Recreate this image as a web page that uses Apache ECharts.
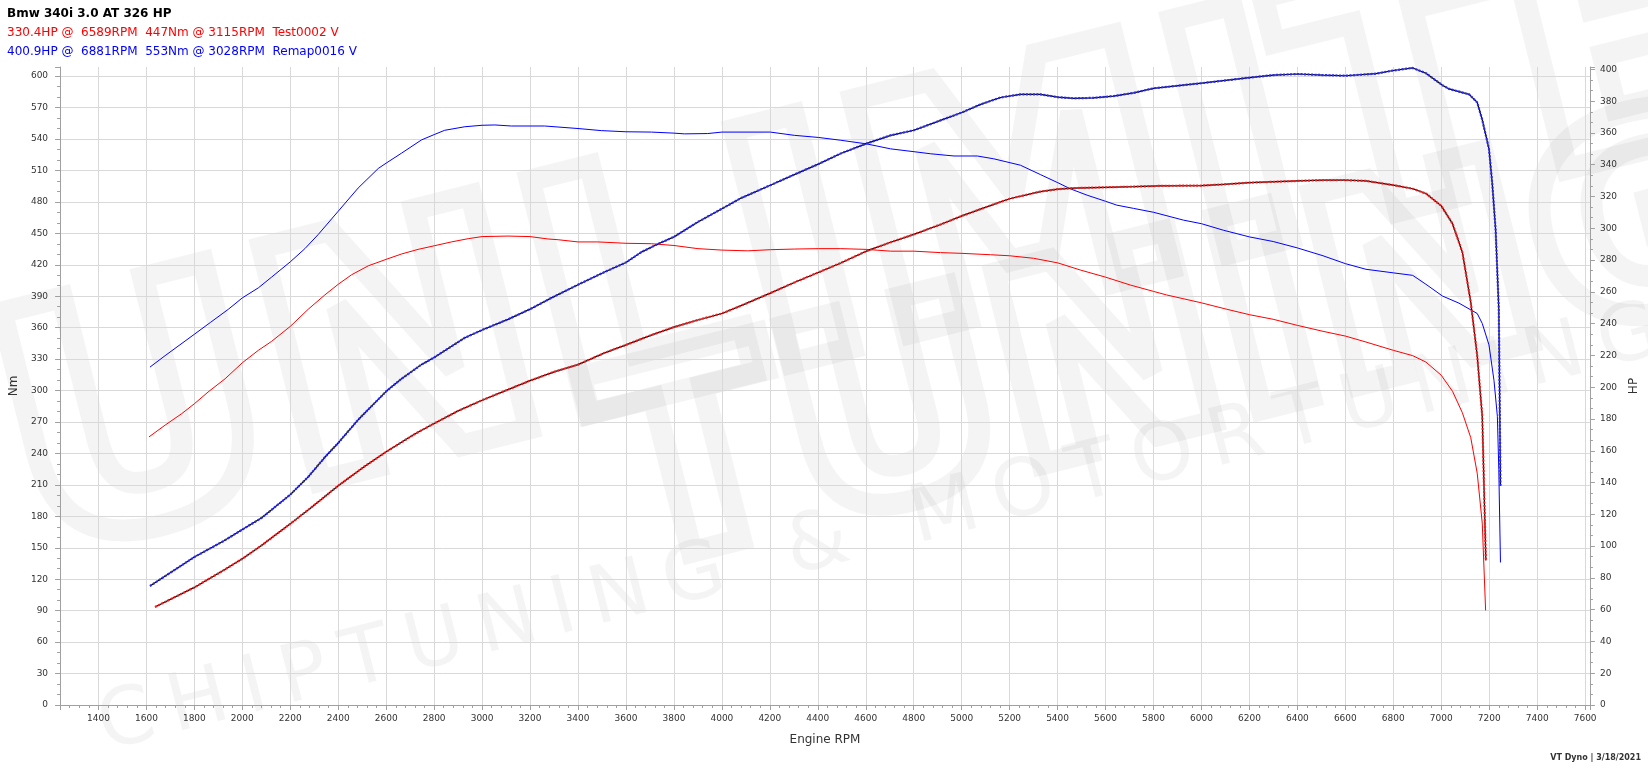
<!DOCTYPE html>
<html><head><meta charset="utf-8">
<script src="https://cdn.jsdelivr.net/npm/echarts@6/dist/echarts.min.js"></script>
<style>html,body{margin:0;padding:0;background:#fff}#c{width:1648px;height:769px}</style>
</head><body><div id="c"></div>
<script>
// ---- text ----
const chartTitle = 'Bmw 340i 3.0 AT 326 HP';
const stockLabel = '330.4HP @  6589RPM  447Nm @ 3115RPM  Test0002 V';
const remapLabel = '400.9HP @  6881RPM  553Nm @ 3028RPM  Remap0016 V';
const footerText = 'VT Dyno | 3/18/2021';
const xName = 'Engine RPM', leftName = 'Nm', rightName = 'HP';
const watermarkBig = 'UNLIMITED', watermarkMid = 'TUNING';
const watermarkSmall = 'C\u2009H\u2009I\u2009P\u2009T\u2009U\u2009N\u2009I\u2009N\u2009G\u2002 &\u2002 M\u2009O\u2009T\u2009O\u2009R\u2009T\u2009U\u2009N\u2009I\u2009N\u2009G';

// ---- Stock torque (Nm) ----
const stockNmRpm = [1611,1678,1747,1800,1861,1928,2000,2067,2122,2200,2275,2344,2400,2456,2525,2600,2664,2733,2800,2872,2942,3000,3108,3200,3275,3317,3400,3483,3600,3706,3800,3900,4000,4108,4202,4302,4402,4496,4602,4704,4801,4912,5001,5120,5200,5300,5401,5495,5600,5703,5800,5855,6000,6105,6200,6299,6400,6507,6600,6686,6800,6881,6936,7000,7047,7088,7123,7150,7171,7185];
const stockNm = [255.8,267,277.9,287.4,299.3,311.2,326.5,338.4,346.9,361.2,377.6,391.2,401.4,410.5,419,425.2,430.3,434.7,438.1,441.8,444.9,446.9,447.4,446.9,444.6,443.9,441.8,441.8,440.5,440.1,438.4,435.4,434,433.3,434.4,435,435.4,435.4,434.7,433,433,431.6,430.9,429.6,428.6,426.2,421.8,415,408.2,400.7,394.6,391.2,383.7,377.6,372.4,368,362.2,356.5,352,346.3,338.4,333.3,327.2,314.6,299.3,278.9,255.1,221.1,173.5,90.2];

// ---- Remap torque (Nm) ----
const remapNmRpm = [1615,1678,1800,1867,1942,2000,2067,2122,2200,2261,2317,2400,2483,2567,2600,2664,2747,2800,2844,2928,3000,3053,3122,3200,3261,3400,3497,3600,3706,3800,3844,3941,4000,4202,4302,4402,4496,4602,4704,4801,4871,4968,5065,5134,5245,5328,5401,5453,5523,5600,5647,5717,5800,5925,6000,6091,6200,6299,6400,6507,6600,6686,6800,6881,6936,7005,7074,7150,7171,7199,7220,7234,7240,7247];
const remapNm = [322.4,333.3,353.7,365,377.6,388.4,398,408.2,422.8,435.4,449,471.1,493.2,511.9,517,526.5,539.1,544.2,548.3,551.7,553.1,553.4,552.4,552.4,552.4,550,548,546.9,546.6,545.6,544.9,545.2,546.6,546.6,543.5,541.5,538.8,535.4,530.6,527.9,525.9,523.8,523.8,521.1,515,506.1,498.3,492.5,486.4,480.6,476.9,473.8,470.1,462.6,459.2,453,446.6,442.2,436.1,428.6,421.1,415.7,412.3,409.9,401.4,390.2,383.4,373.5,364,343.6,309.5,275.5,224.5,136];

// ---- Stock power (HP) ----
const stockHpRpm = [1636,1800,1922,2000,2081,2200,2289,2400,2511,2600,2719,2800,2900,3000,3108,3200,3303,3400,3511,3600,3706,3800,3900,4000,4080,4202,4302,4402,4496,4602,4704,4801,4912,5001,5107,5200,5328,5401,5467,5600,5717,5828,6000,6091,6200,6400,6507,6589,6686,6800,6881,6936,7000,7047,7088,7123,7150,7171,7186];
const stockHp = [61.7,74,84.8,92,100.5,114,124.5,138,150.3,159.3,170.5,177.2,185.1,191.8,198.5,204.1,209.8,214.2,221.6,226.6,232.8,237.8,242.3,246.4,251.3,259.2,265.9,272.2,278.2,285.6,291.2,296.2,302.4,307.8,313.6,318.6,323.1,324.6,325.3,325.8,326.2,326.7,326.9,327.6,328.7,329.8,330.3,330.4,329.8,327.2,324.9,321.9,314.1,302.9,285,253.5,219.8,181.7,90.9];

// ---- Remap power (HP) ----
const remapHpRpm = [1615,1800,1922,2000,2081,2200,2275,2344,2400,2483,2600,2664,2747,2800,2928,3000,3108,3200,3289,3400,3511,3600,3664,3733,3800,3900,4000,4080,4202,4302,4402,4496,4602,4704,4801,4912,5001,5079,5162,5245,5328,5401,5467,5550,5634,5717,5800,6000,6200,6299,6400,6507,6600,6728,6800,6881,6936,7005,7033,7116,7150,7171,7199,7213,7227,7240,7247];
const remapHp = [74.9,93.1,103.2,110.4,117.8,132.4,143.6,155.9,164.9,179.5,197.4,205.3,214.2,218.7,231.1,236,242.7,249.1,256.2,264.5,272.5,278.5,285,290.1,294.6,304,312.3,319,327.1,333.8,340.4,347.1,353.3,358.5,361.7,367.9,372.9,378,382.3,384.3,384.3,382.5,381.8,382.1,383.2,385.2,388.1,391.3,394.8,396.4,397.1,396.4,396,397.3,399.3,400.9,397.6,390,387.7,384.3,379.2,368.2,350,327.6,298.4,249.1,138];

// ---- axis ticks ----
const rpmMin = 1240, rpmMax = 7620, rpmStep = 200;
const nmMax = 608.7, nmStep = 30;
const hpMax = 401.5, hpStep = 20;

const zip = (a, b) => a.map((x, i) => [x, b[i]]);
const FONT = 'DejaVu Sans';
const axisGray = '#a0a0a0';
const gridGray = '#d9d9d9';

const chart = echarts.init(document.getElementById('c'), null, {renderer: 'canvas'});

const wm = 'rgba(0,0,0,0.045)';
const option = {
  animation: false,
  backgroundColor: '#ffffff',
  grid: {left: 57, right: 56.5, top: 67, bottom: 64, containLabel: false},
  graphic: [
    {type: 'text', x: 7, y: 14, z: 10, silent: true,
     style: {text: chartTitle, fill: '#000', font: 'bold 12px "DejaVu Sans"', textVerticalAlign: 'middle'}},
    {type: 'text', x: 7, y: 33, z: 10, silent: true,
     style: {text: stockLabel, fill: '#ff0000', font: '12px "DejaVu Sans"', textVerticalAlign: 'middle'}},
    {type: 'text', x: 7, y: 52, z: 10, silent: true,
     style: {text: remapLabel, fill: '#0000ff', font: '12px "DejaVu Sans"', textVerticalAlign: 'middle'}},
    {type: 'text', x: 1641, y: 758, z: 10, silent: true,
     style: {text: footerText, fill: '#333', font: 'bold 8px "DejaVu Sans"', textAlign: 'right', textVerticalAlign: 'middle'}},
    // watermark
    {type: 'text', x: 10, y: 470, rotation: 0.245, z: -10, silent: true,
     style: {text: watermarkBig, fill: 'none', stroke: wm, lineWidth: 22, lineJoin: 'round', font: 'bold 330px "DejaVu Sans"', textVerticalAlign: 'middle'}},
    {type: 'text', x: 610, y: 500, rotation: 0.245, z: -10, silent: true,
     style: {text: watermarkMid, fill: 'none', stroke: wm, lineWidth: 22, lineJoin: 'round', font: 'bold 270px "DejaVu Sans"', textVerticalAlign: 'middle'}},
    {type: 'text', x: 100, y: 730, rotation: 0.25, z: -10, silent: true,
     style: {text: watermarkSmall, fill: wm, font: '80px "DejaVu Sans"', textVerticalAlign: 'middle'}}
  ],
  xAxis: {
    type: 'value', min: rpmMin, max: rpmMax, splitNumber: 32,
    name: xName, nameLocation: 'middle', nameGap: 29,
    nameTextStyle: {fontFamily: FONT, fontSize: 12, color: '#333'},
    axisLine: {show: true, onZero: false, lineStyle: {color: axisGray}},
    axisTick: {show: true, length: 5, lineStyle: {color: axisGray}},
    minorTick: {show: true, splitNumber: 5, length: 3, lineStyle: {color: axisGray}},
    axisLabel: {fontFamily: FONT, fontSize: 9, color: '#333', margin: 9,
      formatter: v => (Math.abs(v % rpmStep) < 1e-6 ? String(v) : '')},
    splitLine: {show: true, showMinLine: false, showMaxLine: false, lineStyle: {color: gridGray}}
  },
  yAxis: [
    {type: 'value', position: 'left', min: 0, max: nmMax, interval: nmStep,
     name: leftName, nameLocation: 'middle', nameGap: 38,
     nameTextStyle: {fontFamily: FONT, fontSize: 12, color: '#333'},
     axisLine: {show: true, lineStyle: {color: axisGray}},
     axisTick: {show: true, length: 5, lineStyle: {color: axisGray}},
     minorTick: {show: true, splitNumber: 3, length: 3, lineStyle: {color: axisGray}},
     axisLabel: {fontFamily: FONT, fontSize: 9, color: '#333', margin: 12,
       formatter: v => (Math.abs(v % nmStep) < 1e-6 ? String(v) : '')},
     splitLine: {show: true, showMaxLine: false, lineStyle: {color: gridGray}}},
    {type: 'value', position: 'right', min: 0, max: hpMax, interval: hpStep,
     name: rightName, nameLocation: 'middle', nameGap: 38,
     nameTextStyle: {fontFamily: FONT, fontSize: 12, color: '#333'},
     axisLine: {show: true, lineStyle: {color: axisGray}},
     axisTick: {show: true, length: 5, lineStyle: {color: axisGray}},
     minorTick: {show: true, splitNumber: 3, length: 3, lineStyle: {color: axisGray}},
     axisLabel: {fontFamily: FONT, fontSize: 9, color: '#333', margin: 10,
       formatter: v => (Math.abs(v % hpStep) < 1e-6 ? String(v) : '')},
     splitLine: {show: false}}
  ],
  series: [
    {type: 'line', name: 'Stock Nm', yAxisIndex: 0, data: zip(stockNmRpm, stockNm), showSymbol: false, z: 3,
     lineStyle: {color: '#ff0000', width: 1}, itemStyle: {color: '#ff0000'}},
    {type: 'line', name: 'Remap Nm', yAxisIndex: 0, data: zip(remapNmRpm, remapNm), showSymbol: false, z: 3,
     lineStyle: {color: '#0000ff', width: 1}, itemStyle: {color: '#0000ff'}},
    {type: 'line', name: 'Stock HP base', yAxisIndex: 1, data: zip(stockHpRpm, stockHp), showSymbol: false, z: 4,
     lineStyle: {color: '#000000', width: 1.2}},
    {type: 'line', name: 'Stock HP', yAxisIndex: 1, data: zip(stockHpRpm, stockHp), showSymbol: false, z: 5,
     lineStyle: {color: '#ff1a1a', width: 2.2, type: [2, 1.5]}},
    {type: 'line', name: 'Remap HP base', yAxisIndex: 1, data: zip(remapHpRpm, remapHp), showSymbol: false, z: 4,
     lineStyle: {color: '#000000', width: 1.2}},
    {type: 'line', name: 'Remap HP', yAxisIndex: 1, data: zip(remapHpRpm, remapHp), showSymbol: false, z: 5,
     lineStyle: {color: '#2a2aff', width: 2.2, type: [2, 1.5]}}
  ]
};
chart.setOption(option);
</script>
</body></html>
